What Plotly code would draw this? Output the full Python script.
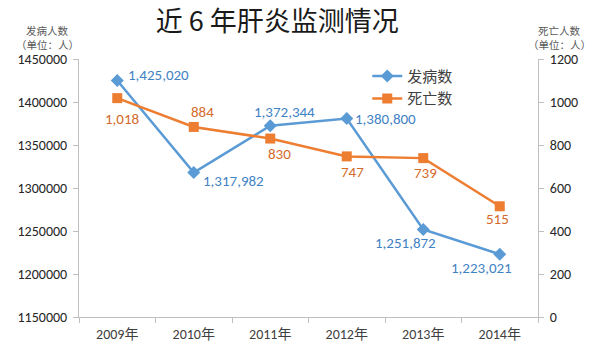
import plotly.graph_objects as go

years = ["2009年", "2010年", "2011年", "2012年", "2013年", "2014年"]
cases = [1425020, 1317982, 1372344, 1380800, 1251872, 1223021]
deaths = [1018, 884, 830, 747, 739, 515]
left_ticks = [1150000, 1200000, 1250000, 1300000, 1350000, 1400000, 1450000]
right_ticks = [0, 200, 400, 600, 800, 1000, 1200]

# label offsets (pixels) relative to each point
case_off = [(41, 5), (40, -8), (14, 14), (39, 0), (-18, -14), (-18, -14)]
death_off = [(5, -21), (9, 15), (9, -15), (6, -16), (2, -15), (-2, -13)]

BLUE = "#5B9BD5"
BLUE_T = "#3F82C4"
ORANGE = "#ED7D31"
ORANGE_T = "#D4692A"
FONT = "Calibri, Carlito, Liberation Sans, Noto Sans CJK SC, sans-serif"
CJK = "Noto Sans CJK SC, Microsoft YaHei, sans-serif"

fig = go.Figure()
fig.add_trace(go.Scatter(
    x=years, y=cases, name="发病数", mode="lines+markers",
    line=dict(color=BLUE, width=2.5),
    marker=dict(symbol="diamond", size=10, color=BLUE),
    yaxis="y"))
fig.add_trace(go.Scatter(
    x=years, y=deaths, name="死亡数", mode="lines+markers",
    line=dict(color=ORANGE, width=2.5),
    marker=dict(symbol="square", size=10, color=ORANGE),
    yaxis="y2"))

ann = []
for x, v, (dx, dy) in zip(years, cases, case_off):
    ann.append(dict(x=x, y=v, xref="x", yref="y", text=f"{v:,}", showarrow=False,
                    xshift=dx, yshift=dy, font=dict(color=BLUE_T, size=15, family=FONT)))
for x, v, (dx, dy) in zip(years, deaths, death_off):
    ann.append(dict(x=x, y=v, xref="x", yref="y2", text=f"{v:,}", showarrow=False,
                    xshift=dx, yshift=dy, font=dict(color=ORANGE_T, size=15, family=FONT)))

title_font = dict(color="#595959", size=10.5, family=CJK)
for xp, name in [(-0.0697, "发病人数"), (1.046, "死亡人数")]:
    ann.append(dict(x=xp, y=(317 - 30) / 258, xref="paper", yref="paper", xanchor="center",
                    yanchor="middle", text=name, showarrow=False, font=title_font,
                    borderpad=0))
    ann.append(dict(x=xp, y=(317 - 45) / 258, xref="paper", yref="paper", xanchor="center",
                    yanchor="middle", text="（单位：人）", showarrow=False, font=title_font,
                    borderpad=0))

fig.update_layout(
    width=600, height=354,
    margin=dict(l=79, r=62, t=59, b=37),
    paper_bgcolor="white", plot_bgcolor="white",
    title=dict(text="近 6 年肝炎监测情况", x=0.462, xanchor="center", y=0.94, yanchor="middle",
               font=dict(size=27, color="#1a1a1a", family=CJK)),
    showlegend=True,
    legend=dict(x=0.628, y=0.997, xanchor="left", yanchor="top", bgcolor="rgba(0,0,0,0)",
                font=dict(size=15, color="#404040", family=CJK), itemwidth=30,
                tracegroupgap=0),
    xaxis=dict(type="category", range=[-0.5, 5.5], showline=True, linecolor="#BFBFBF",
               linewidth=1, ticks="outside", tickson="boundaries", ticklen=5,
               tickcolor="#BFBFBF", showgrid=False, zeroline=False, ticklabelstandoff=4,
               tickfont=dict(size=14, color="#404040", family=FONT)),
    yaxis=dict(range=[1150000, 1450000], tickvals=left_ticks,
               ticktext=[str(t) for t in left_ticks], showline=True, linecolor="#BFBFBF",
               ticks="outside", ticklen=5, tickcolor="#BFBFBF", showgrid=False,
               zeroline=False, ticklabelstandoff=3,
               tickfont=dict(size=14, color="#262626", family=FONT)),
    yaxis2=dict(range=[0, 1200], tickvals=right_ticks, overlaying="y", side="right",
                showline=True, linecolor="#BFBFBF", ticks="outside", ticklen=5,
                tickcolor="#BFBFBF", showgrid=False, zeroline=False, ticklabelstandoff=3,
                tickfont=dict(size=14, color="#262626", family=FONT)),
    annotations=ann,
)

fig.write_html("out.html")
